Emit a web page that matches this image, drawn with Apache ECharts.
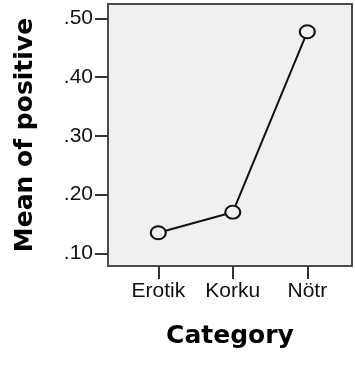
<!DOCTYPE html>
<html>
<head>
<meta charset="utf-8">
<script src="https://cdn.jsdelivr.net/npm/echarts@6/dist/echarts.min.js"></script>
<style>
html,body{margin:0;padding:0;background:#fff;}
#chart{width:355px;height:367px;}
</style>
</head>
<body>
<div id="chart"></div>
<script>
const categories = ['Erotik', 'Korku', 'Nötr'];
const meanValues = [0.135, 0.170, 0.477];
const yTickValues = [0.10, 0.20, 0.30, 0.40, 0.50];
const xTitle = 'Category';
const yTitle = 'Mean of positive';

const chart = echarts.init(document.getElementById('chart'), null, {renderer: 'canvas'});
const seriesData = meanValues.map((v, i) => [i, v]);
const tickFont = 'Liberation Sans, Arial, sans-serif';
const titleFont = 'DejaVu Sans, sans-serif';

chart.setOption({
  animation: false,
  backgroundColor: '#ffffff',
  grid: {
    left: 108, top: 4, width: 244, height: 262,
    show: true, backgroundColor: '#f0f0f0', borderColor: '#4a4a4a', borderWidth: 2
  },
  xAxis: {
    type: 'value', min: -0.675, max: 2.6,
    splitLine: {show: false},
    axisLine: {show: false, onZero: false},
    axisTick: {show: true, length: 13, lineStyle: {color: '#333', width: 2}, customValues: categories.map((c, i) => i)},
    axisLabel: {
      show: true, margin: 15, color: '#111', fontFamily: tickFont, fontSize: 21,
      customValues: categories.map((c, i) => i),
      formatter: v => categories[Math.round(v)] || ''
    },
    name: xTitle, nameLocation: 'middle', nameGap: 58,
    nameTextStyle: {fontFamily: titleFont, fontWeight: 'bold', fontSize: 25, color: '#000'}
  },
  yAxis: {
    type: 'value', min: 0.0784, max: 0.5243,
    splitLine: {show: false},
    axisLine: {show: false, onZero: false},
    axisTick: {show: true, length: 13, lineStyle: {color: '#333', width: 2}, customValues: yTickValues},
    axisLabel: {
      show: true, margin: 15, color: '#111', fontFamily: tickFont, fontSize: 21,
      customValues: yTickValues,
      formatter: v => v.toFixed(2).replace(/^0/, '')
    },
    name: yTitle, nameLocation: 'middle', nameGap: 70, nameRotate: 90,
    nameTextStyle: {fontFamily: titleFont, fontWeight: 'bold', fontSize: 25, color: '#000'}
  },
  series: [{
    type: 'line',
    data: seriesData,
    symbol: 'circle',
    symbolSize: [15, 13],
    lineStyle: {color: '#111', width: 2},
    itemStyle: {color: '#f0f0f0', borderColor: '#111', borderWidth: 2},
    emphasis: {disabled: true}
  }]
});
</script>
</body>
</html>
